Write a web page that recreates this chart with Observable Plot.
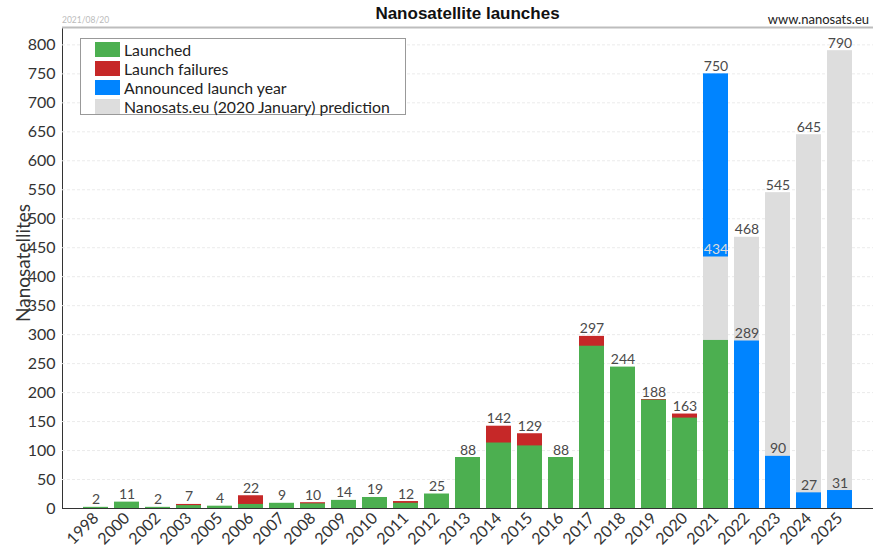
<!DOCTYPE html>
<html>
<head>
<meta charset="utf-8">
<script src="https://cdn.jsdelivr.net/npm/d3@7"></script>
<script src="https://cdn.jsdelivr.net/npm/@observablehq/plot@0.6"></script>
<style>
  html, body { margin: 0; padding: 0; background: #fff; }
  #wrap { position: relative; width: 873px; height: 549px; font-family: Lato, "Noto Sans", sans-serif; }
  #title { position: absolute; left: 62px; width: 811px; top: 4px; text-align: center; font: bold 17px "Liberation Sans", Arial, sans-serif; color: #111; }
  #stamp { position: absolute; left: 62px; top: 15px; font-size: 8.5px; color: #bbb; }
  #site { position: absolute; right: 4px; top: 11px; font-size: 13px; color: #222; }
  #ylabel { position: absolute; left: 22px; top: 263px; transform: translate(-50%, -50%) rotate(-90deg); font-size: 19px; color: #333; white-space: nowrap; }
  #legend { position: absolute; left: 80px; top: 38px; width: 326px; height: 77px; border: 1px solid #999; background: #fff; box-sizing: border-box; padding: 1px 0 0 14px; }
  .row { display: flex; align-items: center; height: 19px; font-size: 15.8px; color: #222; }
  .sw { width: 25px; height: 15px; margin-right: 4px; }
</style>
</head>
<body>
<div id="wrap">
  <div id="chart"></div>
  <div id="title">Nanosatellite launches</div>
  <div id="stamp">2021/08/20</div>
  <div id="site">www.nanosats.eu</div>
  <div id="ylabel">Nanosatellites</div>
  <div id="legend"></div>
</div>
<script>
// Nanosatellites per year: launched, failed launches, announced launch year and the 2020 forecast
const years      = ["1998","2000","2002","2003","2005","2006","2007","2008","2009","2010","2011","2012","2013","2014","2015","2016","2017","2018","2019","2020","2021","2022","2023","2024","2025"];
const launched   = [2, 11, 2, 5, 4, 7, 9, 8, 14, 19, 9, 25, 88, 113, 108, 88, 280, 244, 187, 156, 290, null, null, null, null];
const failures   = [0, 0, 0, 2, 0, 15, 0, 2, 0, 0, 3, 0, 0, 29, 21, 0, 17, 0, 1, 7, null, null, null, null, null];
const announced  = [null, null, null, null, null, null, null, null, null, null, null, null, null, null, null, null, null, null, null, null, 750, 289, 90, 27, 31];
const prediction = [null, null, null, null, null, null, null, null, null, null, null, null, null, null, null, null, null, null, null, null, 434, 468, 545, 645, 790];

const seriesNames  = ["Launched", "Launch failures", "Announced launch year", "Nanosats.eu (2020 January) prediction"];
const seriesColors = ["#4caf50", "#c62828", "#0084ff", "#dddddd"];
const yMax = 830;
const yTicks = d3.range(0, 801, 50);

// Bars overlap from zero; taller ones are drawn first so shorter ones stay visible.
const bars = [];
years.forEach((year, i) => {
  if (launched[i] != null) {
    if (failures[i]) bars.push({year, series: seriesNames[1], value: launched[i] + failures[i]});
    bars.push({year, series: seriesNames[0], value: launched[i]});
  }
  if (announced[i] != null) bars.push({year, series: seriesNames[2], value: announced[i]});
  if (prediction[i] != null) bars.push({year, series: seriesNames[3], value: prediction[i]});
});
bars.sort((a, b) => b.value - a.value);

// Value labels: totals for past years, announced and forecast counts for the rest.
const labels = [];
years.forEach((year, i) => {
  if (announced[i] == null) {
    labels.push({year, value: launched[i] + failures[i], tone: "#4a4a4a"});
  } else {
    const underBlue = prediction[i] < announced[i];
    labels.push({year, value: announced[i], tone: "#4a4a4a"});
    labels.push({year, value: prediction[i], tone: underBlue ? "#dcdcdc" : "#4a4a4a"});
  }
});

const chart = Plot.plot({
  width: 873,
  height: 549,
  marginTop: 27,
  marginBottom: 41,
  marginLeft: 62,
  marginRight: 0,
  style: {fontFamily: "Lato, 'Noto Sans', sans-serif", fontSize: "16px", color: "#333", background: "transparent"},
  x: {domain: years, paddingInner: 0.2, paddingOuter: 0.576, tickRotate: -45, tickSize: 0, tickPadding: 7, label: null, line: true},
  y: {domain: [0, yMax], ticks: yTicks, tickSize: 0, tickPadding: 7, label: null, line: true},
  color: {domain: seriesNames, range: seriesColors},
  marks: [
    Plot.ruleY(yTicks.slice(1), {stroke: "#ebebeb", strokeDasharray: "3,2"}),
    Plot.ruleY([yMax], {stroke: "#bdbdbd", strokeWidth: 2}),
    Plot.barY(bars, {x: "year", y1: 0, y2: "value", fill: "series"}),
    Plot.text(labels, {x: "year", y: "value", text: d => String(d.value), fill: "tone", lineAnchor: "bottom", dy: -3, fontSize: 14})
  ]
});
chart.querySelectorAll('g[aria-label="x-axis tick label"] text').forEach(t => t.style.fontSize = "16px");
chart.querySelectorAll('g[aria-label="x-axis tick label"]').forEach(g => g.setAttribute("font-size", "16"));
chart.querySelectorAll('g[aria-label="x-axis"], g[aria-label="x-axis line"], g[aria-label="y-axis line"]').forEach(g => g.setAttribute("stroke", "#aaa"));
document.getElementById("chart").appendChild(chart);

// Legend box
const legend = document.getElementById("legend");
seriesNames.forEach((name, i) => {
  const row = document.createElement("div");
  row.className = "row";
  row.innerHTML = `<div class="sw" style="background:${seriesColors[i]}"></div><span>${name}</span>`;
  legend.appendChild(row);
});
</script>
</body>
</html>
